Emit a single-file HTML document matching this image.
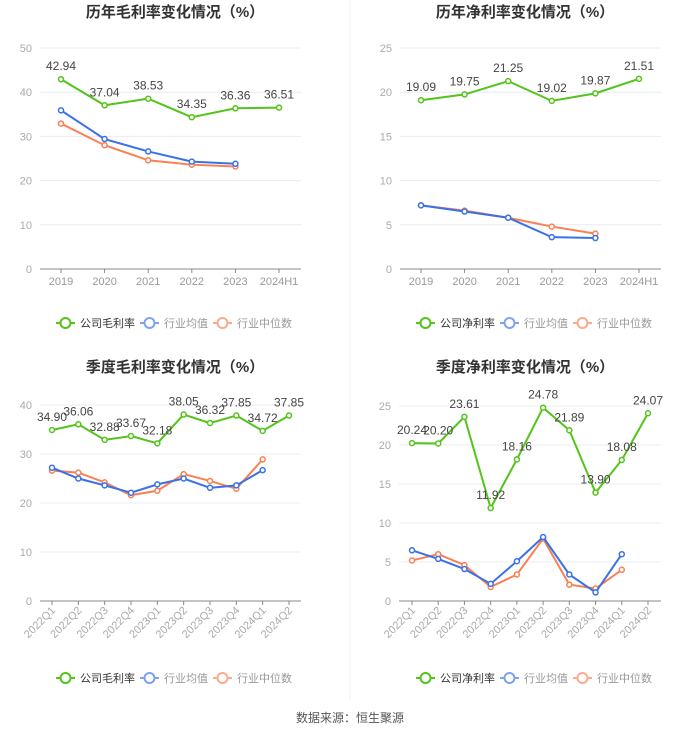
<!DOCTYPE html>
<html><head><meta charset="utf-8"><style>
body{margin:0;background:#fff;font-family:"Liberation Sans","Noto Sans CJK SC",sans-serif;}
svg text{font-family:"Liberation Sans","Noto Sans CJK SC",sans-serif;}
</style></head><body>
<svg id="root" width="700" height="733" viewBox="0 0 700 733" xmlns="http://www.w3.org/2000/svg">
<line x1="350" y1="0" x2="350" y2="700" stroke="#f0f0f0"/>
<text x="350" y="722" text-anchor="middle" font-size="12" fill="#555">数据来源：恒生聚源</text>
</svg>
<script>
const yearCats=["2019","2020","2021","2022","2023","2024H1"];
const qCats=["2022Q1","2022Q2","2022Q3","2022Q4","2023Q1","2023Q2","2023Q3","2023Q4","2024Q1","2024Q2"];
const c1Company=[42.94,37.04,38.53,34.35,36.36,36.51];
const c1Avg=[35.9,29.4,26.6,24.3,23.8];
const c1Med=[32.9,28.0,24.6,23.6,23.2];
const c2Company=[19.09,19.75,21.25,19.02,19.87,21.51];
const c2Avg=[7.2,6.5,5.8,3.6,3.5];
const c2Med=[7.2,6.6,5.8,4.8,4.0];
const c3Company=[34.90,36.06,32.88,33.67,32.18,38.05,36.32,37.85,34.72,37.85];
const c3Avg=[27.2,25.0,23.6,22.1,23.8,25.0,23.1,23.6,26.7];
const c3Med=[26.6,26.2,24.2,21.6,22.5,25.9,24.5,22.9,28.9];
const c4Company=[20.24,20.20,23.61,11.92,18.16,24.78,21.89,13.90,18.08,24.07];
const c4Avg=[6.5,5.4,4.1,2.2,5.1,8.2,3.4,1.1,6.0];
const c4Med=[5.2,6.0,4.6,1.8,3.4,8.0,2.1,1.6,4.0];
const ticks1=[0,10,20,30,40,50], ticks2=[0,5,10,15,20,25], ticks3=[0,10,20,30,40], ticks4=[0,5,10,15,20,25];

const NS="http://www.w3.org/2000/svg";
const root=document.getElementById('root');
function mk(tag,attrs,parent,text){const e=document.createElementNS(NS,tag);for(const k in attrs)e.setAttribute(k,attrs[k]);if(text!==undefined)e.textContent=text;(parent||root).appendChild(e);return e;}
const GREEN="#52c41a",BLUE="#3a70e8",ORANGE="#fa8054";

function chart(o){
  const g=mk('g',{});
  
  
  const t=mk('text',{x:o.cx,y:o.titleY,'text-anchor':'middle','font-size':15,'font-weight':'bold',fill:'#333'},g,o.title);
  
  
  const ymax=o.ticks[o.ticks.length-1];
  const Y=v=>o.y0-(v/ymax)*(o.y0-o.yTop);
  const X=i=>o.x0+i*(o.x1-o.x0)/(o.cats.length-1);
  o.ticks.forEach(v=>{
    if(v>0){const l=mk('line',{x1:o.left,x2:o.right,y1:Y(v),y2:Y(v),stroke:'#e8ecf4'},g);
    
    }
    const tl=mk('text',{x:o.left-8,y:Y(v)+4,'text-anchor':'end','font-size':11,fill:'#aaa'},g,String(v));
    
    
  });
  const ax=mk('line',{x1:o.left,x2:o.right,y1:o.y0,y2:o.y0,stroke:'#888'},g);
  
  
  o.cats.forEach((c,i)=>{
    mk('line',{x1:X(i),x2:X(i),y1:o.y0,y2:o.y0+4,stroke:'#888'},g);
    let tl;
    if(o.rot){tl=mk('text',{x:X(i)+4,y:o.y0+10,'text-anchor':'end','font-size':11,fill:'#aaa',transform:`rotate(-45 ${X(i)+4} ${o.y0+10})`},g,c);}
    else tl=mk('text',{x:X(i),y:o.y0+16,'text-anchor':'middle','font-size':11,fill:'#999'},g,c);
    
    
  });
  const series=[[o.med,ORANGE,'series-median'],[o.avg,BLUE,'series-industry-avg'],[o.comp,GREEN,'series-company']];
  series.forEach(([d,col,nm])=>{
    const p=mk('polyline',{points:d.map((v,i)=>X(i)+','+Y(v)).join(' '),fill:'none',stroke:col,'stroke-width':2},g);
    
    
    d.forEach((v,i)=>{const c=mk('circle',{cx:X(i),cy:Y(v),r:2.5,fill:'#fff',stroke:col,'stroke-width':1.5},g);
      
      });
  });
  o.comp.forEach((v,i)=>{const l=mk('text',{x:X(i),y:Y(v)-9,'text-anchor':'middle','font-size':12,fill:'#444'},g,v.toFixed(2));
    
    });
  const items=[[o.compName,GREEN,'#333'],['行业均值','#7fa2ee','#999'],['行业中位数','#fbab8f','#999']];
  let lx=o.legX;
  items.forEach(([n,col,tc])=>{
    const lg=mk('g',{},g);
    
    
    mk('line',{x1:lx,x2:lx+19,y1:o.legY,y2:o.legY,stroke:col,'stroke-width':2},lg);
    mk('circle',{cx:lx+9.5,cy:o.legY,r:5,fill:'#fff',stroke:col,'stroke-width':2},lg);
    mk('text',{x:lx+24,y:o.legY+4,'font-size':11,fill:tc},lg,n);
    lx+=24+n.length*11+5;
  });
}
chart({name:'annual-gross-margin-chart',title:'历年毛利率变化情况（%）',cx:175,titleY:17,cats:yearCats,comp:c1Company,avg:c1Avg,med:c1Med,ticks:ticks1,y0:269,yTop:48,x0:61,x1:279,left:40,right:301,legX:56,legY:323,compName:'公司毛利率'});
chart({name:'annual-net-margin-chart',title:'历年净利率变化情况（%）',cx:525,titleY:17,cats:yearCats,comp:c2Company,avg:c2Avg,med:c2Med,ticks:ticks2,y0:269,yTop:48,x0:421,x1:639,left:400,right:661,legX:416,legY:323,compName:'公司净利率'});
chart({name:'quarterly-gross-margin-chart',title:'季度毛利率变化情况（%）',cx:175,titleY:372,cats:qCats,comp:c3Company,avg:c3Avg,med:c3Med,ticks:ticks3,y0:601,yTop:405,x0:52,x1:289,left:40,right:301,rot:true,legX:56,legY:678,compName:'公司毛利率'});
chart({name:'quarterly-net-margin-chart',title:'季度净利率变化情况（%）',cx:525,titleY:372,cats:qCats,comp:c4Company,avg:c4Avg,med:c4Med,ticks:ticks4,y0:601,yTop:406,x0:412,x1:648,left:399,right:661,rot:true,legX:416,legY:678,compName:'公司净利率'});
</script>
</body></html>
